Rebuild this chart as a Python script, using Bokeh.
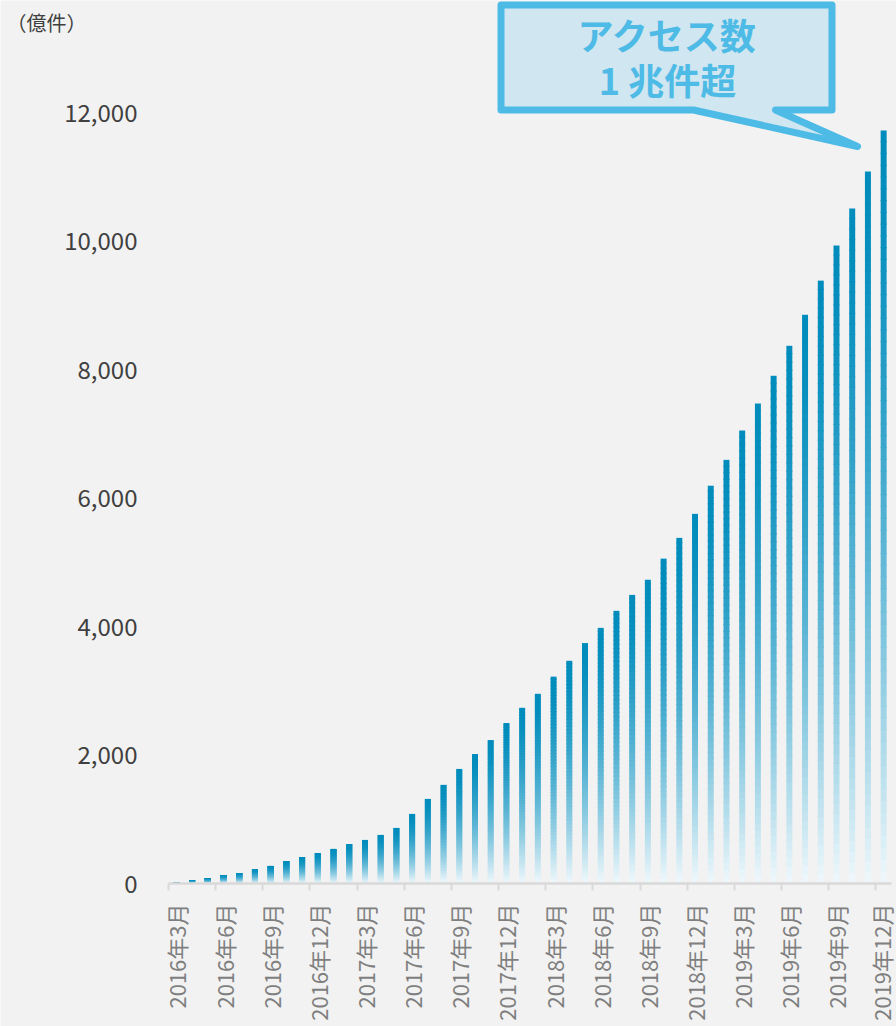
from math import pi

from bokeh.embed import file_html
from bokeh.models import FixedTicker, Label, NumeralTickFormatter, Range1d
from bokeh.plotting import figure
from bokeh.resources import INLINE

# Monthly access count, 2016-03 .. 2019-12 (unit: 100 million)
access_counts = [
    25, 55, 86, 132, 164, 226, 273, 350, 413, 475, 538, 615,
    678, 756, 865, 1083, 1317, 1536, 1784, 2016, 2234, 2499, 2736, 2954,
    3221, 3468, 3744, 3981, 4246, 4494, 4730, 5059, 5382, 5756, 6194, 6597,
    7054, 7474, 7906, 8373, 8856, 9388, 9933, 10510, 11086, 11725,
]

# Quarterly tick labels (one every 3 months, starting with the first month)
tick_labels = [
    "2016年3月", "2016年6月", "2016年9月", "2016年12月",
    "2017年3月", "2017年6月", "2017年9月", "2017年12月",
    "2018年3月", "2018年6月", "2018年9月", "2018年12月",
    "2019年3月", "2019年6月", "2019年9月", "2019年12月",
]
label_step = 3

y_ticks = [0, 2000, 4000, 6000, 8000, 10000, 12000]
unit_label = "（億件）"
callout_lines = ["アクセス数", "1 兆件超"]

FONT = "Noto Sans CJK JP"
BG = "#F2F2F2"
BAR_TOP = (0, 140, 188)
BAR_BOTTOM = (240, 248, 252)
CALLOUT_LINE = "#4DBBE6"
CALLOUT_FILL = "#D0E6F0"

# canvas geometry: the frame fills the canvas, axes sit at fixed locations
W, H = 896, 1026
AXIS_X_PX = 168          # pixel column of the left edge of the first month
AXIS_Y_PX = 883          # pixel row of the zero line
PLOT_RIGHT_PX = 891      # pixel column of the right edge of the last month
Y_TOP_VALUE = 13750      # value shown at the very top row of the canvas

n = len(access_counts)
cat_px = (PLOT_RIGHT_PX - AXIS_X_PX) / n
units_per_px = Y_TOP_VALUE / AXIS_Y_PX

x_start = -0.5 - AXIS_X_PX / cat_px
x_end = -0.5 + (W - AXIS_X_PX) / cat_px
y_start = -(H - AXIS_Y_PX) * units_per_px
y_end = Y_TOP_VALUE

p = figure(
    width=W, height=H,
    output_backend="svg", toolbar_location=None,
    x_range=Range1d(x_start, x_end), y_range=Range1d(y_start, y_end),
    min_border=0,
    background_fill_color=BG, border_fill_color=BG,
    outline_line_color=None,
)
p.grid.visible = False


def dx(px):
    return x_start + px / cat_px


def dy(py):
    return y_end - py * units_per_px


# ---- bars with a vertical gradient (dark at the top, fading to white) ----
def shade(f):
    t = f ** 1.6
    r, g, b = (round(a + (c - a) * t) for a, c in zip(BAR_TOP, BAR_BOTTOM))
    return f"#{r:02x}{g:02x}{b:02x}"


SEGMENTS = 64
half_w = 0.19
overlap = 1.2 * units_per_px   # each slice reaches a little into the next one
left, right, bottom, top, color = [], [], [], [], []
for i, v in enumerate(access_counts):
    for k in range(SEGMENTS):
        left.append(i - half_w)
        right.append(i + half_w)
        bottom.append(v * k / SEGMENTS)
        top.append(min(v, v * (k + 1) / SEGMENTS + overlap))
        color.append(shade(1 - (k + 0.5) / SEGMENTS))

p.quad(left=left, right=right, bottom=bottom, top=top,
       fill_color=color, line_color=None)

# ---- x axis: labels on every 3rd month, ticks on category boundaries ----
label_pos = list(range(0, n, label_step))
xa = p.xaxis[0]
xa.fixed_location = 0
xa.bounds = (-0.5, n - 0.5)
xa.ticker = FixedTicker(ticks=label_pos,
                        minor_ticks=[q - 0.5 for q in label_pos])
xa.major_label_overrides = {q: lab for q, lab in zip(label_pos, tick_labels)}
xa.major_label_orientation = pi / 2
xa.major_tick_line_color = None
xa.major_tick_in = 0
xa.major_tick_out = 0
xa.minor_tick_in = 0
xa.minor_tick_out = 7
xa.minor_tick_line_color = "#D9D9D9"
xa.minor_tick_line_width = 2
xa.axis_line_color = "#D9D9D9"
xa.axis_line_width = 2.5
xa.major_label_standoff = 13
xa.major_label_text_font = FONT
xa.major_label_text_font_size = "22px"
xa.major_label_text_color = "#7F7F7F"

# ---- y axis ----
ya = p.yaxis[0]
ya.fixed_location = -0.5
ya.bounds = (0, y_ticks[-1])
ya.ticker = FixedTicker(ticks=y_ticks)
ya.formatter = NumeralTickFormatter(format="0,0")
ya.axis_line_color = None
ya.major_tick_line_color = None
ya.minor_tick_line_color = None
ya.major_tick_in = 0
ya.major_tick_out = 0
ya.major_label_standoff = 31
ya.major_label_text_font = FONT
ya.major_label_text_font_size = "24px"
ya.major_label_text_color = "#404040"

# unit caption at the top left
p.add_layout(Label(x=dx(46), y=dy(22), text=unit_label,
                   text_align="center", text_baseline="middle",
                   text_font=FONT, text_font_size="20px",
                   text_color="#404040"))

# speech-bubble callout pointing at the latest bars
bubble_px = [(500.5, 4.5), (831.5, 4.5), (831.5, 109.5), (775, 109.5),
             (857, 146), (693, 109.5), (500.5, 109.5)]
p.patch([dx(a) for a, _ in bubble_px], [dy(b) for _, b in bubble_px],
        fill_color=CALLOUT_FILL, line_color=CALLOUT_LINE,
        line_width=7, line_join="round")

for text, cy in zip(callout_lines, (33, 78)):
    p.add_layout(Label(x=dx(667), y=dy(cy), text=text,
                       text_align="center", text_baseline="middle",
                       text_font=FONT, text_font_size="36px",
                       text_font_style="bold", text_color=CALLOUT_LINE))

open("out.html", "w").write(file_html(p, INLINE, title="アクセス数"))
